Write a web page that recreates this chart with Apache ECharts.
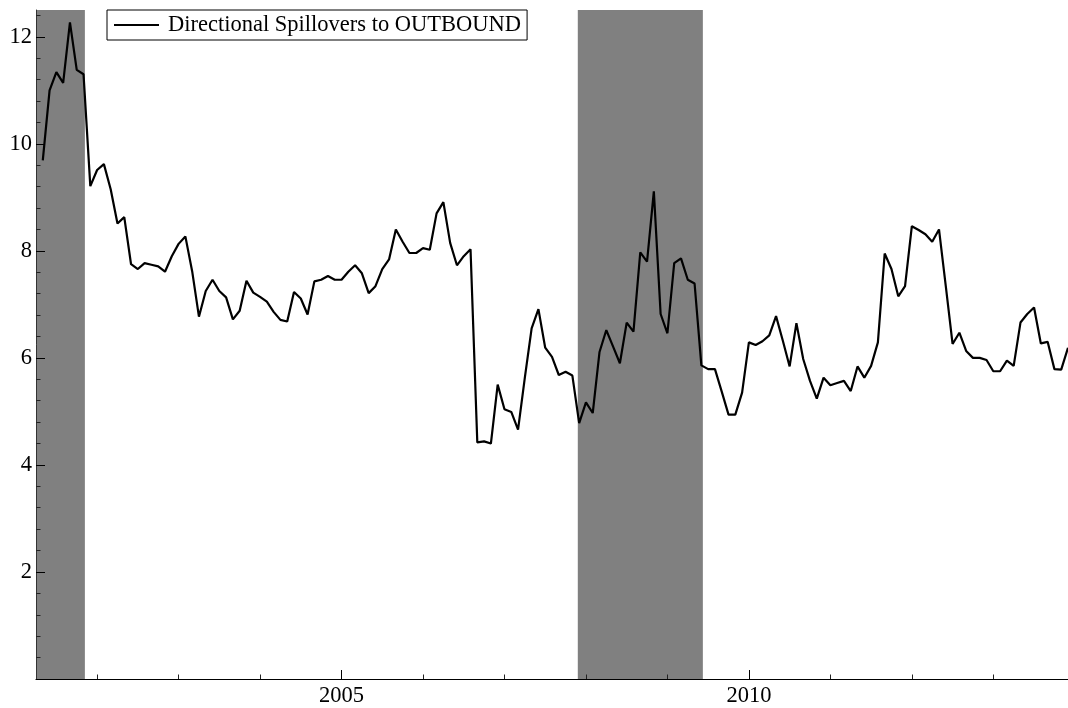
<!DOCTYPE html>
<html>
<head>
<meta charset="utf-8">
<script src="https://cdn.jsdelivr.net/npm/echarts@6/dist/echarts.min.js"></script>
<style>
html,body{margin:0;padding:0;background:#fff;}
#chart{width:1068px;height:708px;}
</style>
</head>
<body>
<div id="chart"></div>
<script>
// Monthly series, first observation May 2001
const startYear = 2001;
const startMonth = 5;
const seriesName = 'Directional Spillovers to OUTBOUND';
const outbound = [
  9.69, 11.00, 11.34, 11.14, 12.27, 11.38, 11.30, 9.21, 9.51, 9.62,
  9.15, 8.51, 8.63, 7.75, 7.66, 7.77, 7.74, 7.71, 7.61, 7.90,
  8.13, 8.27, 7.62, 6.77, 7.25, 7.46, 7.25, 7.13, 6.72, 6.88,
  7.44, 7.22, 7.14, 7.05, 6.86, 6.71, 6.68, 7.23, 7.11, 6.81,
  7.43, 7.46, 7.53, 7.46, 7.46, 7.61, 7.73, 7.58, 7.21, 7.34,
  7.66, 7.84, 8.40, 8.17, 7.96, 7.96, 8.05, 8.02, 8.70, 8.91,
  8.15, 7.73, 7.90, 8.03, 4.42, 4.44, 4.40, 5.50, 5.04, 4.99,
  4.66, 5.63, 6.55, 6.91, 6.19, 6.02, 5.68, 5.74, 5.67, 4.78,
  5.17, 4.97, 6.11, 6.52, 6.21, 5.90, 6.66, 6.49, 7.97, 7.80,
  9.11, 6.82, 6.46, 7.77, 7.86, 7.46, 7.39, 5.86, 5.79, 5.79,
  5.37, 4.94, 4.94, 5.35, 6.29, 6.24, 6.31, 6.42, 6.78, 6.32,
  5.84, 6.65, 5.98, 5.57, 5.24, 5.63, 5.49, 5.53, 5.57, 5.38,
  5.84, 5.63, 5.85, 6.29, 7.95, 7.66, 7.15, 7.34, 8.46, 8.39,
  8.31, 8.17, 8.40, 7.34, 6.26, 6.47, 6.13, 6.00, 6.00, 5.96,
  5.75, 5.75, 5.95, 5.85, 6.66, 6.82, 6.94, 6.27, 6.30, 5.79,
  5.78, 6.19
];
// Recession shading (decimal years)
const recessionStart = [2001.25, 2007.90];
const recessionEnd   = [2001.85, 2009.435];
// Axis ticks
const xMinorTicks = [2002, 2003, 2004, 2005, 2006, 2007, 2008, 2009, 2010, 2011, 2012, 2013];
const xMajorTicks = [2005, 2010];
const yMajorTicks = [2, 4, 6, 8, 10, 12];
const yMinorTicks = [];
for (let k = 1; k <= 31; k++) yMinorTicks.push(+(k * 0.4).toFixed(1));

const xMin = 2001.25, xMax = 2013 + 11 / 12;
const yMin = 0, yMax = 12.5;

const data = outbound.map((v, i) => [startYear + (startMonth - 1 + i) / 12, v]);
const areas = recessionStart.map((s, i) => [{ xAxis: s }, { xAxis: recessionEnd[i] }]);

const font = 'Liberation Serif';
const fs = 22.5;
const chart = echarts.init(document.getElementById('chart'), null, { renderer: 'canvas' });
chart.setOption({
  animation: false,
  backgroundColor: '#ffffff',
  grid: { left: 36, right: 0, top: 10, bottom: 28, containLabel: false },
  legend: {
    data: [seriesName],
    left: 107, top: 10,
    orient: 'horizontal',
    backgroundColor: '#ffffff',
    borderColor: '#000000',
    borderWidth: 1,
    borderRadius: 0,
    padding: [3.5, 6, 3.5, 7],
    icon: 'rect',
    itemWidth: 45,
    itemHeight: 2,
    itemStyle: { color: '#000' },
    textStyle: { fontFamily: font, fontSize: fs, color: '#000', lineHeight: 23, padding: [0, 0, 0, 4] }
  },
  xAxis: [
    {
      type: 'value', min: xMin, max: xMax, z: 5,
      axisLine: { show: true, lineStyle: { color: '#000', width: 1.2 } },
      axisTick: { show: true, inside: true, length: 4.5, customValues: xMinorTicks, lineStyle: { color: '#222', width: 1 } },
      axisLabel: { show: false },
      splitLine: { show: false }
    },
    {
      type: 'value', min: xMin, max: xMax, position: 'bottom', z: 5,
      axisLine: { show: false },
      axisTick: { show: true, inside: true, length: 9, customValues: xMajorTicks, lineStyle: { color: '#000', width: 1 } },
      axisLabel: { show: true, customValues: xMajorTicks, margin: 6, fontFamily: font, fontSize: fs, color: '#000', formatter: v => String(v) },
      splitLine: { show: false }
    }
  ],
  yAxis: [
    {
      type: 'value', min: yMin, max: yMax, z: 5,
      axisLine: { show: true, lineStyle: { color: '#333', width: 1 } },
      axisTick: { show: true, inside: true, length: 4.5, customValues: yMinorTicks, lineStyle: { color: '#222', width: 1 } },
      axisLabel: { show: false },
      splitLine: { show: false }
    },
    {
      type: 'value', min: yMin, max: yMax, position: 'left', z: 5,
      axisLine: { show: false },
      axisTick: { show: true, inside: true, length: 9, customValues: yMajorTicks, lineStyle: { color: '#000', width: 1 } },
      axisLabel: { show: true, customValues: yMajorTicks, margin: 4, fontFamily: font, fontSize: fs, color: '#000' },
      splitLine: { show: false }
    }
  ],
  series: [{
    name: seriesName,
    type: 'line',
    xAxisIndex: 0, yAxisIndex: 0,
    data: data,
    symbol: 'none',
    z: 2,
    lineStyle: { color: '#000', width: 2.2 },
    itemStyle: { color: '#000' },
    markArea: {
      silent: true,
      itemStyle: { color: '#808080', opacity: 1 },
      data: areas
    }
  }]
});
</script>
</body>
</html>
